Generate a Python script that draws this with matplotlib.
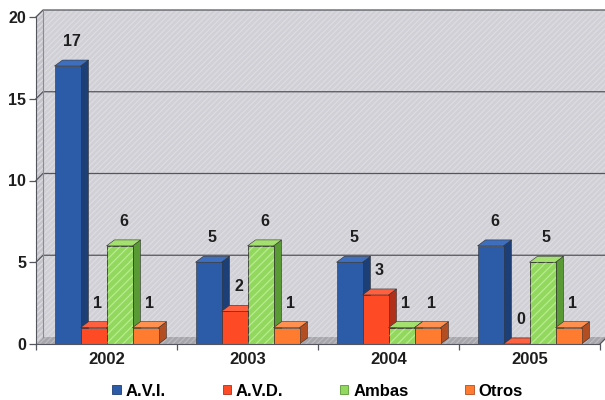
import matplotlib.pyplot as plt
from matplotlib.patches import Polygon, Patch

plt.rcParams['font.family'] = ['Liberation Sans', 'DejaVu Sans']
plt.rcParams['font.weight'] = 'bold'
plt.rcParams['hatch.linewidth'] = 0.9

# Data
years = ['2002', '2003', '2004', '2005']
series = ['A.V.I.', 'A.V.D.', 'Ambas', 'Otros']
avi = [17, 5, 5, 6]
avd = [1, 2, 3, 0]
ambas = [6, 6, 1, 5]
otros = [1, 1, 1, 1]
values = [avi, avd, ambas, otros]

front_col = ['#2c5ca8', '#ff4a26', '#92d85e', '#ff7b30']
side_col = ['#1d3f78', '#b0301a', '#5a9a34', '#b24e22']
top_col = ['#3d6fbe', '#ff6040', '#a4e070', '#ff9050']
hatches = [None, None, '////', None]
hatch_col = [None, None, '#b8ec90', None]

fig = plt.figure(figsize=(6.05, 4.0), dpi=100)
ax = fig.add_axes([36 / 605, 56 / 400, 564 / 605, 327 / 400])
ax.set_xlim(0, 4)
ax.set_ylim(0, 20)

# pixel sizes in data units, used for the fake 3D depth
sx = 4 / 564
sy = 20 / 327
wdx, wdy = 7 * sx, 7 * sy
bdx, bdy = 8 * sx, 6 * sy
bw = 26 * sx


def poly(pts, fc, ec='none', lw=0, hatch=None, z=1):
    p = Polygon(pts, closed=True, facecolor=fc, edgecolor=ec, linewidth=lw,
                hatch=hatch, clip_on=False, zorder=z)
    ax.add_patch(p)
    return p


# walls and floor
stripe_c = '#dddce1'
back = [(wdx, wdy), (4 + wdx, wdy), (4 + wdx, 20 + wdy), (wdx, 20 + wdy)]
left = [(0, 0), (wdx, wdy), (wdx, 20 + wdy), (0, 20)]
floor = [(0, 0), (4, 0), (4 + wdx, wdy), (wdx, wdy)]
poly(back, '#d1d0d6', z=0.5)
poly(back, 'none', ec=stripe_c, hatch='//////', z=0.6)
poly(left, '#c6c5cb', z=0.5)
poly(left, 'none', ec=stripe_c, hatch='//////', z=0.6)
poly(floor, '#a6a6ac', z=0.7)
poly(floor, 'none', ec='#bcbcc0', hatch='//////', z=0.75)

grid_c = '#55555e'
for v in [5, 10, 15, 20]:
    ax.plot([0, wdx, 4 + wdx], [v, v + wdy, v + wdy], color=grid_c, lw=0.9,
            clip_on=False, zorder=0.8)
ax.plot([wdx, wdx], [wdy, 20 + wdy], color='#8a8a92', lw=0.8, clip_on=False, zorder=0.8)
ax.plot([4, 4 + wdx], [0, wdy], color=grid_c, lw=0.9, clip_on=False, zorder=0.8)

# bars
z = 2
for i in range(len(years)):
    for j, vals in enumerate(values):
        v = vals[i]
        x0 = i + 0.5 - 2 * bw + j * bw
        poly([(x0 + bw, 0), (x0 + bw + bdx, bdy), (x0 + bw + bdx, v + bdy), (x0 + bw, v)],
             side_col[j], ec='#303030', lw=0.4, z=z)
        poly([(x0, v), (x0 + bw, v), (x0 + bw + bdx, v + bdy), (x0 + bdx, v + bdy)],
             top_col[j], ec='#303030', lw=0.4, z=z)
        if v > 0:
            face = [(x0, 0), (x0 + bw, 0), (x0 + bw, v), (x0, v)]
            poly(face, front_col[j], ec='#303030', lw=0.4, z=z)
            if hatches[j]:
                poly(face, 'none', ec=hatch_col[j], hatch=hatches[j], z=z + 0.001)
                poly(face, 'none', ec='#303030', lw=0.4, z=z + 0.002)
        z += 0.01
        ax.text(x0 + bw / 2 + 4 * sx, v + 1.5, str(v), ha='center', va='center',
                fontsize=11.5, fontweight='bold', color='#1e1e1e', zorder=5)

# axes
for s in ['top', 'right']:
    ax.spines[s].set_visible(False)
ax.spines['left'].set_color('#55555e')
ax.spines['bottom'].set_color('#55555e')
ax.spines['left'].set_zorder(3)
ax.spines['bottom'].set_zorder(3)
ax.set_facecolor('none')

ax.set_yticks([0, 5, 10, 15, 20])
ax.tick_params(axis='y', length=5, width=0.9, color='#55555e', pad=2,
               labelsize=11.5, labelcolor='#1e1e1e')
ax.set_xticks([0.5, 1.5, 2.5, 3.5], years)
ax.set_xticks([0, 1, 2, 3, 4], minor=True)
ax.tick_params(axis='x', which='major', length=0, pad=6, labelsize=12,
               labelcolor='#1e1e1e')
ax.tick_params(axis='x', which='minor', length=4, width=0.9, color='#55555e')

handles = [Patch(facecolor=front_col[j], edgecolor=side_col[j], linewidth=0.6)
           for j in range(len(series))]
fig.legend(handles, series, loc='center', bbox_to_anchor=(0.525, 1 - 391 / 400),
           ncol=4, frameon=False, handlelength=0.5, handleheight=0.5,
           handletextpad=0.3, columnspacing=3.4, prop={'weight': 'bold', 'size': 12})

fig.savefig('out.png', dpi=100)
